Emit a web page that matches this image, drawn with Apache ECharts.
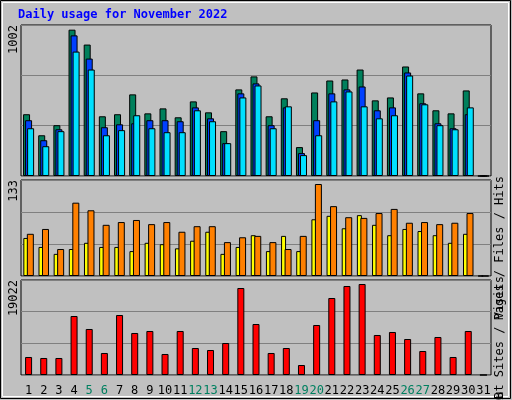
<!DOCTYPE html>
<html><head><meta charset="utf-8">
<script src="https://cdn.jsdelivr.net/npm/echarts@6/dist/echarts.min.js"></script>
<style>html,body{margin:0;padding:0;background:#c0c0c0}#c{width:512px;height:400px}</style>
</head><body><div id="c"></div>
<script>
const days = ['1','2','3','4','5','6','7','8','9','10','11','12','13','14','15','16','17','18','19','20','21','22','23','24','25','26','27','28','29','30','31'];
const weekend = ['5','6','12','13','19','20','26','27'];
const hits  = [423,279,348,1002,900,409,423,559,429,463,402,511,436,307,593,682,409,532,198,572,654,661,729,518,538,750,566,450,429,586,0];
const files = [382,245,320,963,804,334,354,361,382,382,375,470,395,225,566,634,348,470,157,382,566,593,613,450,470,709,498,361,327,423,0];
const pages = [327,204,307,852,729,279,314,416,327,300,300,450,375,225,538,620,327,477,143,279,511,579,477,395,416,688,491,348,320,470,0];
const visits= [55,42,32,39,48,42,42,36,48,46,40,51,64,32,42,59,36,58,36,82,87,69,88,74,59,68,65,59,48,61,0];
const sites = [61,68,39,106,95,74,78,81,75,78,64,72,72,49,56,58,49,39,58,133,101,85,84,91,97,77,78,75,77,91,0];
const kbF   = [3763,3554,3554,12333,9616,4599,12542,8780,9198,4390,9198,5644,5226,6689,18186,10661,4599,5644,2090,10452,16096,18604,19022,8362,8989,7525,5017,7944,3763,9198,0];
const maxLabels = ['1002','133','19022'];

const mono = 'DejaVu Sans Mono';
const L = 21, R = 21;
const grids = [
  {left:L,right:R,top:25,height:151},
  {left:L,right:R,top:180,height:96},
  {left:L,right:R,top:280,height:95}
].map(g=>Object.assign(g,{show:true,backgroundColor:'#c0c0c0',borderColor:'#000',borderWidth:1}));
const xAxes = [0,1,2].map(i=>({
  type:'category',gridIndex:i,data:days,axisLine:{show:false},axisTick:{show:false},
  axisLabel:{show:i===2,interval:0,margin:10,fontFamily:mono,fontSize:12,
    formatter:v=>weekend.includes(v)?'{w|'+v+'}':'{n|'+v+'}',
    rich:{w:{color:'#008060',fontFamily:mono,fontSize:12},n:{color:'#000',fontFamily:mono,fontSize:12}}}
}));
const yMax=[1034,138.8,19859];
const yAxes = [0,1,2].map(i=>({
  type:'value',gridIndex:i,min:0,max:yMax[i],interval:yMax[i]/3,
  axisLabel:{show:false},axisLine:{show:false},axisTick:{show:false},
  splitLine:{show:true,lineStyle:{color:'#808080',width:1}}
}));
const bs = c=>({color:c,borderColor:'#000',borderWidth:1});
const series = [
  {type:'bar',xAxisIndex:0,yAxisIndex:0,data:hits,barWidth:7,barGap:'-71%',itemStyle:bs('#00805c'),animation:false},
  {type:'bar',xAxisIndex:0,yAxisIndex:0,data:files,barWidth:7,barGap:'-71%',itemStyle:bs('#0040ff'),animation:false},
  {type:'bar',xAxisIndex:0,yAxisIndex:0,data:pages,barWidth:7,barGap:'-71%',itemStyle:bs('#00e0ff'),animation:false},
  {type:'bar',xAxisIndex:1,yAxisIndex:1,data:visits,barWidth:5,barGap:'-30%',itemStyle:bs('#ffff00'),animation:false},
  {type:'bar',xAxisIndex:1,yAxisIndex:1,data:sites,barWidth:7,barGap:'-30%',itemStyle:bs('#ff8000'),animation:false},
  {type:'bar',xAxisIndex:2,yAxisIndex:2,data:kbF,barWidth:7,itemStyle:bs('#ff0000'),animation:false}
];
const vt = (x,y,rich,txt)=>({type:'text',x:x,y:y,rotation:Math.PI/2,style:{text:txt,rich:rich,font:'12px '+mono,align:'right',verticalAlign:'middle'}});
const rich = {
  h:{color:'#00805c',fontFamily:mono,fontSize:12},f:{color:'#0040ff',fontFamily:mono,fontSize:12},
  p:{color:'#00e0ff',fontFamily:mono,fontSize:12},k:{color:'#404040',fontFamily:mono,fontSize:12},
  v:{color:'#ffff00',fontFamily:mono,fontSize:12},s:{color:'#ff8000',fontFamily:mono,fontSize:12},
  r:{color:'#ff0000',fontFamily:mono,fontSize:12},i:{color:'#0080ff',fontFamily:mono,fontSize:12},
  o:{color:'#00c000',fontFamily:mono,fontSize:12}
};
const graphic = [
  {type:'rect',shape:{x:0.5,y:0.5,width:510,height:398},style:{fill:'none',stroke:'#000',lineWidth:1}},
  {type:'rect',shape:{x:2.5,y:2.5,width:506,height:394},style:{fill:'none',stroke:'#fff',lineWidth:1}},
  {type:'text',left:18,top:9,style:{text:'Daily usage for November 2022',font:'bold 12px '+mono,fill:'#0000ff'}},
  {type:'text',x:8,y:25,rotation:Math.PI/2,style:{text:maxLabels[0],font:'12px '+mono,fill:'#000',align:'right',verticalAlign:'top'}},
  {type:'text',x:8,y:180,rotation:Math.PI/2,style:{text:maxLabels[1],font:'12px '+mono,fill:'#000',align:'right',verticalAlign:'top'}},
  {type:'text',x:8,y:280,rotation:Math.PI/2,style:{text:maxLabels[2],font:'12px '+mono,fill:'#000',align:'right',verticalAlign:'top'}},
  vt(500,176,rich,'{p|Pages}{k| / }{f|Files}{k| / }{h|Hits}'),
  vt(500,276,rich,'{o|Out} {s|Sites}{k| / }{v|Visits}'),
  vt(500,392,rich,'{r|kB F}{k| / }{i|kB In}{k| / }{o|kB}')
];
const chart = echarts.init(document.getElementById('c'));
chart.setOption({backgroundColor:'#c0c0c0',animation:false,grid:grids,xAxis:xAxes,yAxis:yAxes,series:series,graphic:graphic});
</script></body></html>
